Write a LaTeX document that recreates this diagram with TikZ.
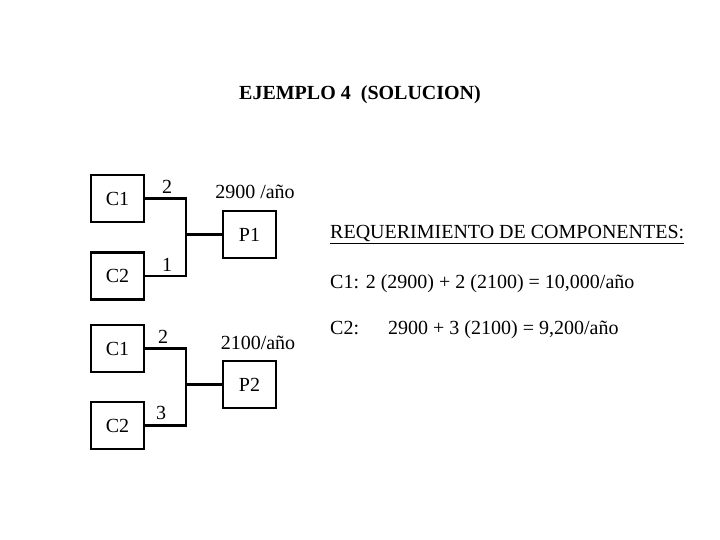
\documentclass[tikz,border=0pt]{standalone}
\usepackage{fontspec}
\setmainfont{Liberation Serif}
\begin{document}
\begin{tikzpicture}[x=1pt,y=-1pt,
  box/.style={draw=black,line width=2.2pt,fill=white,minimum width=53pt,minimum height=47pt,inner sep=0pt,font=\fontsize{20}{24}\selectfont},
  conn/.style={line width=2.2pt},
  lab/.style={inner sep=0pt,font=\fontsize{20}{24}\selectfont}]
\useasboundingbox (0,0) rectangle (720,540);
\fill[white] (0,0) rectangle (720,540);
\node[lab,font=\fontsize{20}{24}\selectfont\bfseries] (title) at (360,95) {EJEMPLO 4\ \ (SOLUCION)};
% group 1
\node[box] (c1a) at (117.5,198.5) {C1};
\node[box] (c2a) at (117.5,276) {C2};
\node[box] (p1) at (249.5,234.5) {P1};
\coordinate (j1) at (186,234.5);
\draw[conn] (c1a.east) -| (j1);
\draw[conn] (c2a.east) -| (j1);
\draw[conn] (j1) -- (p1.west);
\node[lab] (n1) at (167,187) {2};
\node[lab] (n2) at (167,265) {1};
\node[lab] (d1) at (255,192) {2900 /año};
% group 2
\node[box] (c1b) at (117.5,348.5) {C1};
\node[box] (c2b) at (117.5,425.5) {C2};
\node[box] (p2) at (249.5,384.5) {P2};
\coordinate (j2) at (186,384.5);
\draw[conn] (c1b.east) -| (j2);
\draw[conn] (c2b.east) -| (j2);
\draw[conn] (j2) -- (p2.west);
\node[lab] (n3) at (163,337) {2};
\node[lab] (n4) at (161,413) {3};
\node[lab] (d2) at (258,343) {2100/año};
% requirements
\node[lab,anchor=west] (req) at (330,235) {\underline{REQUERIMIENTO DE COMPONENTES:}};
\node[lab,anchor=west] (r1) at (330,284) {C1: 2 (2900) + 2 (2100) = 10,000/año};
\node[lab,anchor=west] (r2) at (330,330) {\makebox[58pt][l]{C2:}2900 + 3 (2100) = 9,200/año};
\end{tikzpicture}
\end{document}
